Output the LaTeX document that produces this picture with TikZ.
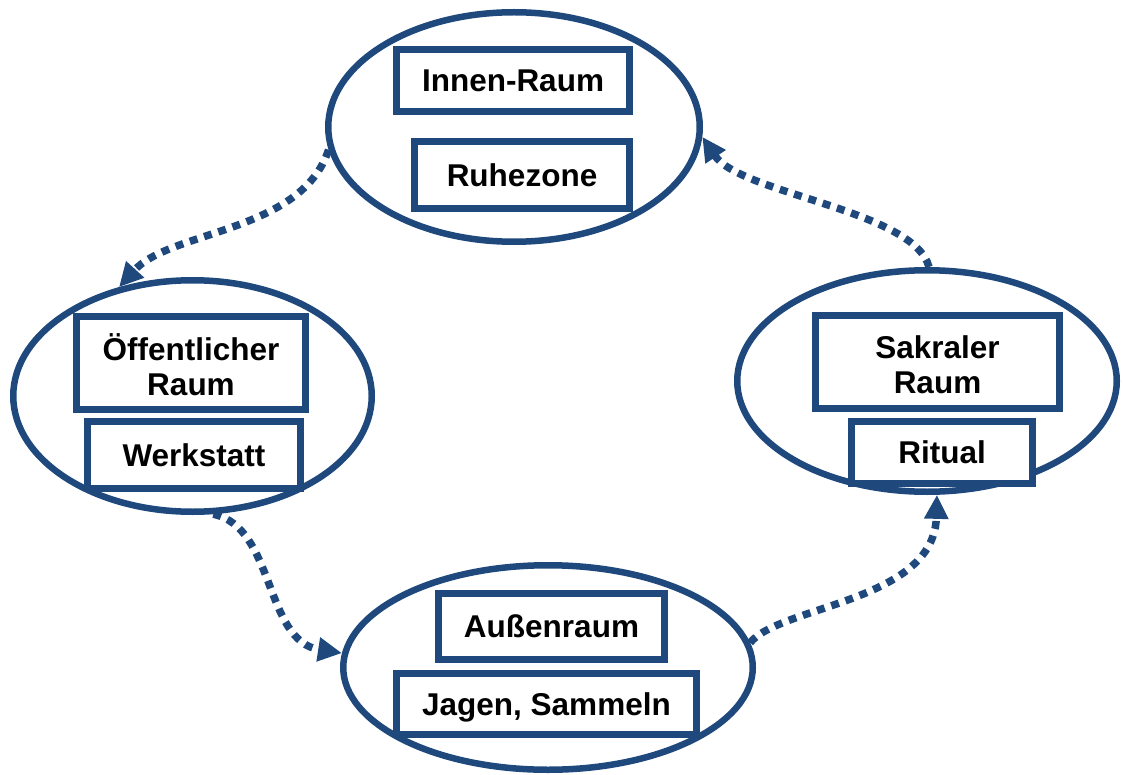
\documentclass[tikz,border=0pt]{standalone}
\usepackage{fontspec}
\setmainfont{Liberation Sans}
\usetikzlibrary{shapes.geometric,arrows.meta}
\definecolor{dblue}{RGB}{31,73,125}
\newcommand{\twolines}[2]{\raisebox{-7pt}[\height][\depth]{\begin{tabular}{@{}c@{}}#1\\#2\end{tabular}}}
\begin{document}
\begin{tikzpicture}[x=1pt,y=-1pt,
  ring/.style={ellipse,draw=dblue,line width=6.5pt,inner sep=0pt},
  box/.style={rectangle,draw=dblue,fill=white,line width=7pt,inner sep=0pt,
    font=\fontsize{31.5}{35}\selectfont\bfseries,text=black},
  onebox/.style={box,text height=22.5pt,text depth=0pt},
  flow/.style={draw=dblue,line width=7.5pt,line cap=butt,dash pattern=on 8pt off 7pt,
    -{Triangle[length=24pt,width=23pt]}}]
\useasboundingbox (0,0) rectangle (1123,775);
% rings
\node[ring,minimum width=371.5pt,minimum height=229.5pt] (top) at (514,127) {};
\node[ring,minimum width=358.5pt,minimum height=231.5pt] (left) at (192.5,396) {};
\node[ring,minimum width=379.5pt,minimum height=221.5pt] (right) at (927,381) {};
\node[ring,minimum width=409.5pt,minimum height=204.5pt] (bottom) at (548,667.5) {};
% boxes
\node[onebox,minimum width=233pt,minimum height=62pt] (innen) at (513,80.5) {Innen-Raum};
\node[onebox,minimum width=215pt,minimum height=67pt] (ruhe) at (522,175) {Ruhezone};
\node[box,minimum width=229pt,minimum height=93pt] (oeff) at (191,363) {\twolines{Öffentlicher}{Raum}};
\node[onebox,minimum width=213pt,minimum height=67pt] (werk) at (194,455) {Werkstatt};
\node[box,minimum width=244pt,minimum height=93pt] (sakral) at (937.5,362) {\twolines{Sakraler}{Raum}};
\node[onebox,minimum width=181pt,minimum height=62pt] (ritual) at (942,452.5) {Ritual};
\node[onebox,minimum width=226pt,minimum height=66pt] (aussen) at (551.5,626.5) {Außenraum};
\node[onebox,minimum width=300pt,minimum height=61pt] (jagen) at (546.5,704) {Jagen, Sammeln};
% connectors
\draw[flow] (top.187.6) .. controls +(-27,83) and +(52,-57) .. (left.124);
\draw[flow] (left.-80) .. controls +(62,13) and +(-78,-12) .. (bottom.176);
\draw[flow] (bottom.7) .. controls +(30,-37) and +(-3,107) .. (right.-85);
\draw[flow] (right.89) .. controls +(-15,-57) and +(38,57) .. (top.-3);
\end{tikzpicture}
\end{document}
